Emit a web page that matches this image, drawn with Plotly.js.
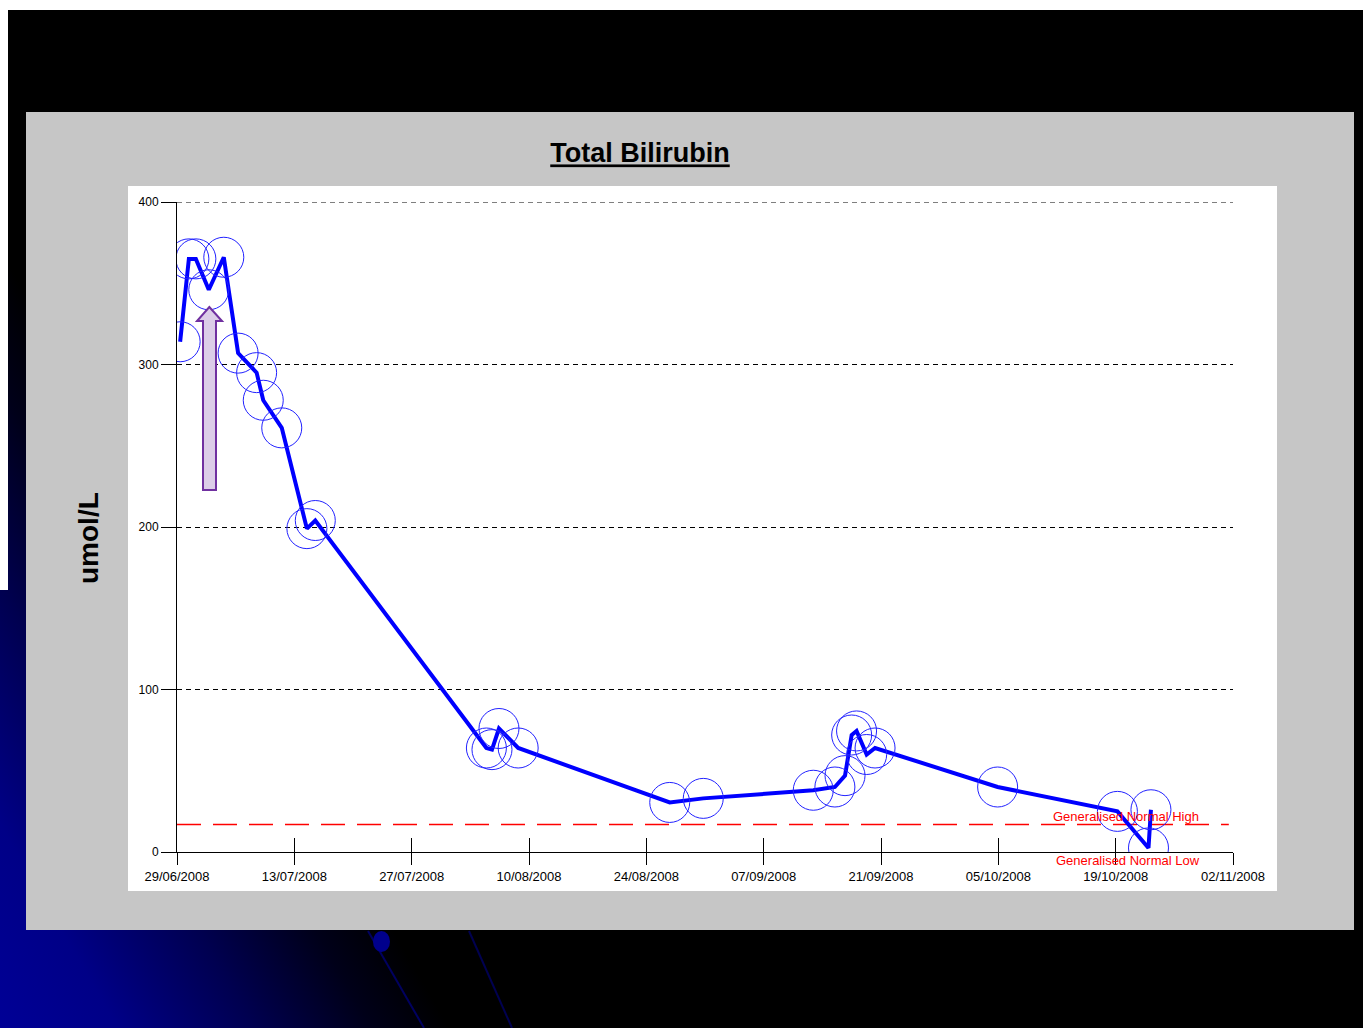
<!DOCTYPE html>
<html>
<head>
<meta charset="utf-8">
<script src="https://cdn.plot.ly/plotly-3.0.1.min.js"></script>
<style>
  html, body { margin: 0; padding: 0; background: #000; }
  #chart {
    width: 1363px; height: 1028px;
    background: linear-gradient(60deg, rgb(0,0,150) 0%, rgb(0,0,135) 6%, rgb(0,0,80) 13%, rgb(0,0,25) 19%, #000 23%);
  }
</style>
</head>
<body>
<div id="chart"></div>
<script>
// ---- data ----
const sampleDates = [
  '2008-06-29 09:00', '2008-06-30 10:00', '2008-07-01 06:00', '2008-07-02 19:00',
  '2008-07-04 14:00', '2008-07-06 07:00', '2008-07-08 12:00', '2008-07-09 07:00',
  '2008-07-11 12:00', '2008-07-14 12:00', '2008-07-15 12:00',
  '2008-08-04 22:00', '2008-08-05 14:00', '2008-08-06 10:00', '2008-08-08 17:00',
  '2008-08-26 19:00', '2008-08-30 19:00',
  '2008-09-12 22:00', '2008-09-15 12:00', '2008-09-16 17:00', '2008-09-17 12:00',
  '2008-09-18 02:00', '2008-09-19 07:00', '2008-09-20 07:00',
  '2008-10-04 22:00', '2008-10-19 05:00', '2008-10-22 22:00', '2008-10-23 05:00'
];
const bilirubin = [
  314, 365, 365, 346,
  366, 307, 295, 278,
  261, 199, 204,
  64, 63, 76, 64,
  30.5, 33,
  38, 40, 47, 72,
  74.5, 60, 64,
  40, 25, 2.5, 26
];
const normalHigh = 17;
const xRange = ['2008-06-29', '2008-11-02'];
const yTicks = [0, 100, 200, 300, 400];
const yTickText = ['0', '100', '200', '300', '400'];
const titleText = 'Total Bilirubin';
const yTitleText = 'umol/L';
const normalHighLabel = 'Generalised Normal High';
const normalLowLabel = 'Generalised Normal Low';

// ---- geometry helpers (pixel -> paper) ----
const W = 1363, H = 1028;
const L = 177, R = 130, T = 202, B = 176;
const PW = W - L - R, PH = H - T - B;
const px = x => (x - L) / PW;
const py = y => (H - B - y) / PH;

function rectP(x0, y0, x1, y1, color, extra) {
  return Object.assign({
    type: 'rect', xref: 'paper', yref: 'paper',
    x0: px(x0), x1: px(x1), y0: py(y1), y1: py(y0),
    fillcolor: color, line: { width: 0 }, layer: 'below'
  }, extra || {});
}

const arrowPts = [[209.3,307],[222,321],[216,321],[216,490],[203,490],[203,321],[197,321]];
const arrowPath = 'M ' + arrowPts.map(p => px(p[0]).toFixed(5) + ',' + py(p[1]).toFixed(5)).join(' L ') + ' Z';

const gridDash = '5px,4px';
const shapes = [
  rectP(0, 0, W, 10, '#FFFFFF'),
  rectP(0, 0, 8, 590, '#FFFFFF'),
  rectP(26, 112, 1354, 930, '#C6C6C6'),
  rectP(128, 186, 1277, 891, '#FFFFFF'),
  // top gridline (at the range edge, which Plotly does not draw)
  {
    type: 'line', xref: 'paper', yref: 'y', x0: 0, x1: 1,
    y0: yTicks[yTicks.length - 1], y1: yTicks[yTicks.length - 1], layer: 'below',
    line: { color: '#000', width: 1.2, dash: gridDash }
  },
  {
    type: 'line', xref: 'x', yref: 'y', x0: xRange[0], x1: '2008-11-01 12:00',
    y0: normalHigh, y1: normalHigh, layer: 'below',
    line: { color: '#FF0000', width: 1.5, dash: '24px,12px' }
  },
  {
    type: 'path', xref: 'paper', yref: 'paper', path: arrowPath,
    fillcolor: '#DCCDE8', line: { color: '#7030A0', width: 2 }, layer: 'above'
  },
  // decorative slide elements
  { type: 'line', xref: 'paper', yref: 'paper', x0: px(368), y0: py(931), x1: px(424), y1: py(1028),
    line: { color: '#000060', width: 2 } },
  { type: 'line', xref: 'paper', yref: 'paper', x0: px(469), y0: py(931), x1: px(512), y1: py(1028),
    line: { color: '#000050', width: 2 } },
  { type: 'circle', xref: 'paper', yref: 'paper', x0: px(373), y0: py(931), x1: px(390), y1: py(952),
    fillcolor: '#00008C', line: { width: 0 } }
];

const traces = [
  {
    type: 'scatter', mode: 'lines+markers',
    x: sampleDates, y: bilirubin,
    line: { color: '#0000FF', width: 4 },
    marker: { symbol: 'circle-open', size: 40, color: '#2222FF', line: { color: '#2222FF', width: 1 } },
    hoverinfo: 'x+y', showlegend: false
  },
  {
    type: 'scatter', mode: 'lines', xaxis: 'x2',
    x: sampleDates, y: bilirubin,
    line: { width: 0, color: 'rgba(0,0,0,0)' }, hoverinfo: 'skip', showlegend: false
  }
];

const fam = 'Liberation Sans, Arial, sans-serif';

const layout = {
  width: W, height: H,
  margin: { l: L, r: R, t: T, b: B, pad: 0 },
  paper_bgcolor: 'rgba(0,0,0,0)',
  plot_bgcolor: 'rgba(0,0,0,0)',
  showlegend: false,
  title: {
    text: '<b><u>' + titleText + '</u></b>',
    x: 640 / W, xanchor: 'center', xref: 'container',
    y: 1 - 153 / H, yanchor: 'middle', yref: 'container',
    font: { family: fam, size: 27, color: '#000' }
  },
  xaxis: {
    type: 'date', range: xRange,
    tickmode: 'linear', tick0: xRange[0], dtick: 14 * 86400000,
    tickformat: '%d/%m/%Y',
    ticks: 'outside', ticklen: 12, tickcolor: '#000', tickwidth: 1,
    showline: true, linecolor: '#000', linewidth: 1,
    showgrid: false, zeroline: false,
    tickfont: { family: fam, size: 13, color: '#000' }
  },
  xaxis2: {
    type: 'date', range: xRange, overlaying: 'x', anchor: 'y', side: 'bottom',
    tickmode: 'linear', tick0: xRange[0], dtick: 14 * 86400000,
    ticks: 'inside', ticklen: 14, tickcolor: '#000', tickwidth: 1,
    showticklabels: false, showline: false, showgrid: false, zeroline: false
  },
  yaxis: {
    range: [0, 400],
    tickmode: 'array', tickvals: yTicks, ticktext: yTickText,
    ticks: 'outside', ticklen: 15, tickcolor: '#000', tickwidth: 1,
    showline: true, linecolor: '#000', linewidth: 1,
    showgrid: true, gridcolor: '#000', gridwidth: 1, griddash: gridDash,
    zeroline: false,
    tickfont: { family: fam, size: 12, color: '#000' }
  },
  shapes: shapes,
  annotations: [
    {
      xref: 'paper', yref: 'paper', x: px(88), y: py(538), xanchor: 'center', yanchor: 'middle',
      text: '<b>' + yTitleText + '</b>', textangle: -90, showarrow: false,
      font: { family: fam, size: 28, color: '#000' }
    },
    {
      xref: 'paper', yref: 'paper', x: px(1126), y: py(816), xanchor: 'center', yanchor: 'middle',
      text: normalHighLabel, showarrow: false,
      font: { family: fam, size: 13, color: '#FF0000' }
    },
    {
      xref: 'paper', yref: 'paper', x: px(1128), y: py(860), xanchor: 'center', yanchor: 'middle',
      text: normalLowLabel, showarrow: false,
      font: { family: fam, size: 13, color: '#FF0000' }
    }
  ]
};

Plotly.newPlot('chart', traces, layout, { displayModeBar: false, staticPlot: true });
</script>
</body>
</html>
